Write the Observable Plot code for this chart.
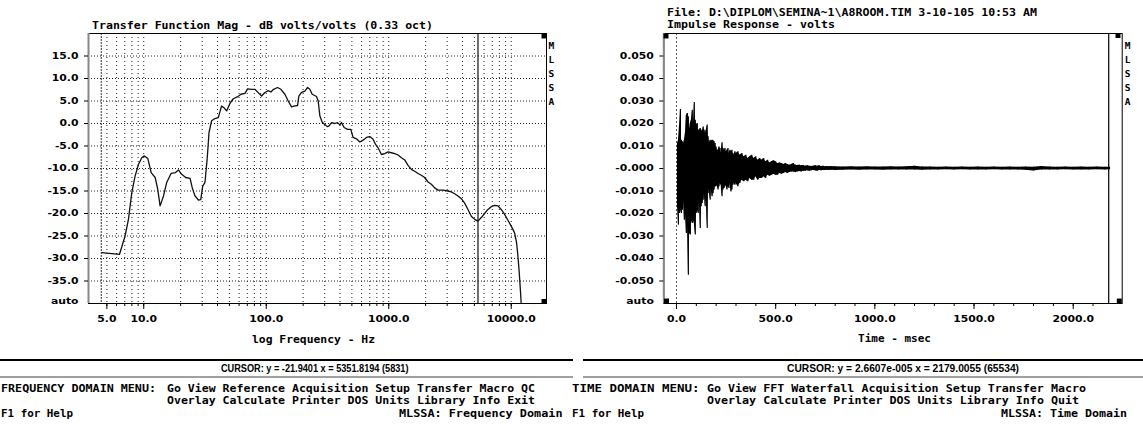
<!DOCTYPE html>
<html><head><meta charset="utf-8">
<script src="https://cdn.jsdelivr.net/npm/d3@7"></script>
<script src="https://cdn.jsdelivr.net/npm/@observablehq/plot@0.6"></script>
<style>
html,body{margin:0;padding:0;background:#fff;}
body{width:1143px;height:425px;overflow:hidden;position:relative;}
.pane{position:absolute;top:0;}
g[aria-label="x-axis tick label"], g[aria-label="y-axis tick label"]{font-family:"DejaVu Sans";font-weight:bold;font-size:8px;}
.hl{position:absolute;}
</style>
</head><body>
<div id="left" class="pane" style="left:0;width:571px"></div>
<div id="right" class="pane" style="left:571px;width:572px"></div>
<script>
// ---------- Frequency-domain panel data ----------
const freqHz = [
  4.55, 6.33, 7.04, 7.5, 7.98, 8.5, 9.05, 9.63, 10.1, 10.8,
  11.5, 12.4, 13.0, 13.6, 14.5, 15.4, 16.7, 18.2, 19.2, 20.4,
  22.0, 23.9, 24.9, 26.2, 27.9, 29.2, 30.3, 31.6, 33.0, 34.1,
  35.8, 38.1, 40.6, 43.2, 45.2, 47.5, 50.6, 53.8, 58.0, 62.2,
  67.0, 70.4, 75.9, 80.8, 87.1, 91.6, 97.5, 103.8, 109.1, 114.8,
  123.7, 131.7, 142.0, 151.1, 160.9, 171.3, 180.1, 184.6, 194.1, 206.7,
  217.3, 227.0, 237.1, 257.3, 265.5, 273.9, 286.2, 300.9, 314.3, 324.3,
  340.9, 362.9, 381.5, 398.6, 411.3, 432.4, 460.3, 490.0, 512.0, 545.1,
  580.2, 617.7, 657.6, 700.1, 745.3, 778.6, 818.6, 871.4, 927.8, 987.6,
  1051, 1119, 1191, 1269, 1350, 1437, 1530, 1629, 1734, 1846,
  1966, 2093, 2227, 2371, 2525, 2774, 3046, 3243, 3451, 3675,
  3912, 4165, 4434, 4720, 5025, 5350, 5693, 6061, 6452, 6871,
  7313, 7786, 8288, 8824, 9394, 10000, 10646, 11054, 11334, 11620,
  11915, 12065
];
const magDb = [
  -28.7, -29.1, -25.0, -21.3, -15.4, -11.7, -9.1, -7.6, -7.2, -7.8,
  -10.9, -12.0, -14.6, -18.3, -16.1, -13.1, -11.1, -10.9, -10.3, -11.3,
  -12.0, -12.2, -14.3, -16.1, -17.0, -16.9, -13.9, -13.1, -7.6, -2.0,
  0.6, 1.1, 1.3, 3.9, 3.5, 2.8, 4.5, 5.5, 5.9, 6.5,
  6.7, 7.7, 7.6, 7.6, 6.7, 6.1, 6.9, 7.3, 7.0, 7.6,
  8.0, 7.6, 6.5, 5.0, 3.7, 3.9, 4.0, 6.1, 6.9, 7.2,
  8.0, 7.6, 6.5, 6.0, 5.0, 1.7, 0.3, -0.2, -0.7, -0.6,
  0.2, 0.0, 0.2, -0.3, 0.2, -0.9, -1.3, -1.3, -3.1, -3.4,
  -4.1, -3.7, -3.1, -2.9, -3.5, -4.6, -5.4, -6.9, -6.7, -6.3,
  -6.5, -6.7, -7.0, -7.6, -8.1, -9.3, -10.2, -10.6, -11.1, -11.5,
  -12.0, -13.0, -13.5, -14.3, -14.8, -14.8, -15.0, -15.2, -15.6, -16.1,
  -16.7, -17.7, -19.1, -20.6, -21.3, -21.7, -20.9, -20.0, -19.1, -18.5,
  -18.2, -18.3, -19.1, -20.2, -21.5, -22.8, -24.3, -26.5, -29.4, -33.1,
  -37.6, -40.2
];
const freqGrid = [5,6,7,8,9,10,20,30,40,50,60,70,80,90,100,200,300,400,500,600,700,800,900,
  1000,2000,3000,4000,5000,6000,7000,8000,9000,10000];
const freqMajor = [5, 10, 100, 1000, 10000];
const freqLabels = ["5.0", "10.0", "100.0", "1000.0", "10000.0"];
const dbTicks = [-35, -30, -25, -20, -15, -10, -5, 0, 5, 10, 15];
const dbLabels = ["-35.0","-30.0","-25.0","-20.0","-15.0","-10.0","-5.0","0.0","5.0","10.0","15.0"];
const freqCursor = 5351.8194;
const freqMarker = 4.5;

// ---------- Time-domain panel data (peak envelope of the impulse response) ----------
const timeEarly = [5,10,15,20,25,30,35,40,45,50,55,60,65,70,75,80,85,90,95,100,
  105,110,115,120,125,130,135,140,145,150,155,160,165,170,175,180,185,190,195,200,
  205,210,215,220,225,230,235,240,245,250,255,260,265,270,275,280,285,290,295,300];
const hiEarly = [0.0111,0.0126,0.0185,0.0262,0.0126,0.0119,0.0111,0.0126,0.0156,0.0237,
  0.0244,0.0230,0.0170,0.0200,0.0215,0.0259,0.0185,0.0293,0.0215,0.0193,
  0.0200,0.0170,0.0170,0.0178,0.0170,0.0163,0.0185,0.0170,0.0156,0.0170,
  0.0193,0.0141,0.0111,0.0126,0.0119,0.0126,0.0123,0.0119,0.0111,0.0096,
  0.0081,0.0081,0.0096,0.0089,0.0067,0.0114,0.0089,0.0081,0.0089,0.0074,
  0.0081,0.0089,0.0067,0.0081,0.0074,0.0081,0.0067,0.0059,0.0074,0.0067];
const loEarly = [-0.0170,-0.0252,-0.0200,-0.0185,-0.0200,-0.0185,-0.0141,-0.0230,-0.0200,-0.0289,
  -0.0230,-0.0474,-0.0289,-0.0296,-0.0230,-0.0244,-0.0230,-0.0244,-0.0296,-0.0200,
  -0.0185,-0.0200,-0.0141,-0.0267,-0.0170,-0.0156,-0.0141,-0.0111,-0.0170,-0.0126,
  -0.0267,-0.0111,-0.0096,-0.0141,-0.0096,-0.0126,-0.0111,-0.0096,-0.0081,-0.0081,
  -0.0074,-0.0096,-0.0081,-0.0067,-0.0074,-0.0126,-0.0096,-0.0089,-0.0081,-0.0074,
  -0.0096,-0.0081,-0.0089,-0.0067,-0.0104,-0.0096,-0.0074,-0.0067,-0.0074,-0.0067];
const timeMid = [310,320,330,340,350,360,370,380,390,400,410,420,430,440,450,460,470,480,490,500,
  510,520,530,540,550,560,570,580,590,600,610,620,630,640,650,660,670,680,690,700,
  710,720,730,740,750,760,770,780,790,800];
const hiMid = [0.0074,0.0059,0.0067,0.0052,0.0059,0.0044,0.0052,0.0059,0.0044,0.0052,
  0.0037,0.0044,0.0037,0.0044,0.0030,0.0037,0.0025,0.0030,0.0034,0.0030,
  0.0022,0.0025,0.0022,0.0018,0.0022,0.0018,0.0015,0.0018,0.0022,0.0015,
  0.0013,0.0015,0.0012,0.0013,0.0010,0.0012,0.0010,0.0009,0.0010,0.0012,
  0.0010,0.0012,0.0009,0.0010,0.0008,0.0009,0.0008,0.0009,0.0008,0.0008];
const loMid = [-0.0081,-0.0067,-0.0052,-0.0059,-0.0052,-0.0059,-0.0044,-0.0052,-0.0052,-0.0037,
  -0.0052,-0.0044,-0.0044,-0.0037,-0.0044,-0.0030,-0.0034,-0.0030,-0.0025,-0.0030,
  -0.0030,-0.0022,-0.0025,-0.0022,-0.0018,-0.0022,-0.0018,-0.0015,-0.0015,-0.0018,
  -0.0015,-0.0013,-0.0015,-0.0012,-0.0012,-0.0010,-0.0012,-0.0010,-0.0009,-0.0010,
  -0.0012,-0.0009,-0.0010,-0.0009,-0.0009,-0.0008,-0.0009,-0.0008,-0.0008,-0.0009];
const timeTail = [840,880,920,960,1000,1040,1080,1120,1160,1200,1240,1280,1320,1360,1400,1440,1480,1520,
  1560,1600,1640,1680,1720,1760,1800,1840,1880,1920,1960,2000,2040,2080,2120,2160,2183];
const hiTail = [0.0007,0.0008,0.0007,0.0008,0.0007,0.0007,0.0008,0.0007,0.0008,0.0010,0.0007,0.0007,
  0.0006,0.0007,0.0006,0.0007,0.0006,0.0007,0.0006,0.0007,0.0006,0.0007,0.0006,0.0007,0.0006,
  0.0009,0.0007,0.0006,0.0007,0.0006,0.0007,0.0006,0.0007,0.0006,0.0006];
const loTail = [-0.0008,-0.0007,-0.0008,-0.0007,-0.0007,-0.0008,-0.0007,-0.0007,-0.0007,-0.0007,-0.0008,-0.0007,
  -0.0007,-0.0006,-0.0007,-0.0006,-0.0007,-0.0007,-0.0007,-0.0006,-0.0007,-0.0007,-0.0007,-0.0008,-0.0011,
  -0.0007,-0.0007,-0.0007,-0.0006,-0.0007,-0.0007,-0.0007,-0.0006,-0.0007,-0.0006];
const timeMinor = [0,100,200,300,400,500,600,700,800,900,1000,1100,1200,1300,1400,1500,1600,1700,1800,1900,2000,2100];
const timeMajor = [0, 500, 1000, 1500, 2000];
const timeLabels = ["0.0", "500.0", "1000.0", "1500.0", "2000.0"];
const voltTicks = [-0.05,-0.04,-0.03,-0.02,-0.01,0,0.01,0.02,0.03,0.04,0.05];
const voltLabels = ["-0.050","-0.040","-0.030","-0.020","-0.010","-0.000","0.010","0.020","0.030","0.040","0.050"];
const timeCursor = 2179.0055;
const timeMarker = 0;

// ---------- build ----------
const freqData = freqHz.map((f, i) => ({f, db: magDb[i]}));
const impulse = [
  ...timeEarly.map((t, i) => ({t, hi: hiEarly[i], lo: loEarly[i]})),
  ...timeMid.map((t, i) => ({t, hi: hiMid[i], lo: loMid[i]})),
  ...timeTail.map((t, i) => ({t, hi: hiTail[i], lo: loTail[i]}))
];
const dLab = new Map(dbTicks.map((v, i) => [v, dbLabels[i]]));
const vLab = new Map(voltTicks.map((v, i) => [v, voltLabels[i]]));
const tickLabelSet = new Set([...freqLabels, ...timeLabels, ...dbLabels, ...voltLabels, "auto"]);

const mono = {fontFamily: "DejaVu Sans Mono", fontWeight: "bold", fontSize: 9.5};
const tickFont = {fontFamily: "DejaVu Sans", fontWeight: "bold", fontSize: 8};
const sq = (frameAnchor, dx, dy) => Plot.dot([0], {frameAnchor, dx, dy, symbol: "square", r: 2.8, fill: "#000", stroke: "none"});
const mlssa = (dx) => Plot.text(["M\nL\nS\nS\nA"], {text: d => d, frameAnchor: "top-right", textAnchor: "start", lineAnchor: "top", dx, dy: 6, lineHeight: 1.46, ...mono, fill: "#000"});
const xLabels = (vals, labels) => Plot.text(vals, {x: d => d, text: (d, i) => labels[i], frameAnchor: "bottom", lineAnchor: "middle", dy: 15.5, fill: "#000", ...tickFont});

const freqDomain = [3.54, 19400];
const dbDomain = [-40, 20];
const leftPlot = Plot.plot({
  width: 571, height: 350,
  marginLeft: 88, marginRight: 25, marginTop: 33, marginBottom: 47,
  x: {type: "log", domain: freqDomain, label: null},
  y: {domain: dbDomain, label: null},
  style: {background: "transparent", color: "#000"},
  marks: [
    Plot.ruleX(freqGrid, {stroke: "#222", strokeDasharray: "1,3"}),
    Plot.ruleY(dbTicks, {stroke: "#222", strokeDasharray: "1,2"}),
    Plot.ruleX([freqMarker], {stroke: "#333", strokeDasharray: "2,1"}),
    Plot.ruleX([freqCursor], {stroke: "#111", strokeWidth: 1.2}),
    Plot.line(freqData, {x: "f", y: "db", stroke: "#111", strokeWidth: 1.3, clip: true}),
    Plot.frame({stroke: "#000"}),
    Plot.ruleX([freqDomain[0]], {stroke: "#888", strokeWidth: 2}),
    Plot.axisX({ticks: freqGrid, tickSize: 3, tickFormat: () => ""}),
    Plot.axisX({ticks: freqMajor, tickSize: 6, tickFormat: () => ""}),
    xLabels(freqMajor, freqLabels),
    Plot.axisY({ticks: dbTicks, tickSize: 4, tickPadding: 6, tickFormat: d => dLab.get(d)}),
    Plot.axisY({ticks: [dbDomain[0]], tickSize: 0, tickPadding: 10, dy: -2, tickFormat: () => "auto"}),
    sq("top-right", -2.5, 2.5), sq("bottom-right", -2.5, -2),
    mlssa(2)
  ]
});

const timeDomain = [-64, 2247];
const voltDomain = [-0.06, 0.06];
const rightPlot = Plot.plot({
  width: 572, height: 350,
  marginLeft: 92.3, marginRight: 21.3, marginTop: 33, marginBottom: 47,
  x: {domain: timeDomain, label: null},
  y: {domain: voltDomain, label: null},
  style: {background: "transparent", color: "#000"},
  marks: [
    Plot.ruleX([timeMarker], {stroke: "#555", strokeDasharray: "2,2"}),
    Plot.areaY(impulse, {x: "t", y1: "lo", y2: "hi", fill: "#000"}),
    Plot.ruleX(impulse, {x: "t", y1: "lo", y2: "hi", stroke: "#000", strokeWidth: 1.1}),
    Plot.ruleX([timeCursor], {stroke: "#000", strokeWidth: 1.2}),
    Plot.frame({stroke: "#000"}),
    Plot.ruleX([timeDomain[0]], {stroke: "#888", strokeWidth: 2}),
    Plot.axisX({ticks: timeMinor, tickSize: 3, tickFormat: () => ""}),
    Plot.axisX({ticks: timeMajor, tickSize: 6, tickFormat: () => ""}),
    xLabels(timeMajor, timeLabels),
    Plot.axisY({ticks: voltTicks, tickSize: 4, tickPadding: 6, tickFormat: d => vLab.get(d)}),
    Plot.axisY({ticks: [voltDomain[0]], tickSize: 0, tickPadding: 10, dy: -2, tickFormat: () => "auto"}),
    sq("top-left", 2.2, 2.5), sq("bottom-left", 2.7, -2.5), sq("bottom-right", -2.9, -2.5), sq("top-right", -4.2, 2),
    mlssa(2.6)
  ]
});

document.getElementById("left").appendChild(leftPlot);
document.getElementById("right").appendChild(rightPlot);

// stretch the tick labels horizontally (wide low-resolution screen font)
for (const svg of [leftPlot, rightPlot]) {
  for (const t of svg.querySelectorAll("text")) {
    if (!tickLabelSet.has(t.textContent)) continue;
    const w = t.getComputedTextLength();
    t.setAttribute("textLength", (w * 1.35).toFixed(2));
    t.setAttribute("lengthAdjust", "spacingAndGlyphs");
  }
}

// ---------- screen texts ----------
function put(s, x, yc, w, o = {}) {
  const size = o.size || 11;
  const d = document.createElement("div");
  d.textContent = s;
  d.style.cssText = `position:absolute;left:${x}px;top:0;white-space:pre;line-height:1;` +
    `font-family:${o.font || '"DejaVu Sans Mono"'};font-weight:${o.weight || "bold"};font-size:${size}px;` +
    `color:#000;transform-origin:0 0;`;
  document.body.appendChild(d);
  const r = d.getBoundingClientRect();
  d.style.top = (yc - (o.cap || 0.48) * size) + "px";
  if (w) d.style.transform = `scaleX(${w / r.width})`;
}
function hline(x, y, w, h, c) {
  const d = document.createElement("div");
  d.className = "hl";
  d.style.cssText += `left:${x}px;top:${y}px;width:${w}px;height:${h}px;background:${c};`;
  document.body.appendChild(d);
}
const sans = {font: '"Liberation Sans", Arial, sans-serif', weight: "bold", size: 11.5, cap: 0.49};

put("Transfer Function Mag - dB volts/volts (0.33 oct)", 92, 25.3, 341, {size: 10.5});
put("File: D:\\DIPLOM\\SEMINA~1\\A8ROOM.TIM 3-10-105 10:53 AM", 666.7, 11.7, 370, {size: 10.5});
put("Impulse Response - volts", 666.7, 24, 168, {size: 10.5});
put("log Frequency - Hz", 251.8, 338.6, 123, {size: 10.5});
put("Time - msec", 858.3, 338, 73, {size: 10.5});

hline(0, 359, 573, 1.5, "#000");
hline(0, 376, 573, 2, "#a0a0a0");
hline(583, 359, 560, 1.5, "#000");
hline(583, 376, 560, 2, "#a0a0a0");
put("CURSOR: y = -21.9401 x = 5351.8194 (5831)", 220.6, 368.5, 187.5, sans);
put("CURSOR: y = 2.6607e-005 x = 2179.0055 (65534)", 787, 368.5, 232, sans);

put("FREQUENCY DOMAIN MENU:", 1, 388.5, 155);
put("Go View Reference Acquisition Setup Transfer Macro QC", 167, 388.5, 368);
put("Overlay Calculate Printer DOS Units Library Info Exit", 167, 400.5, 368);
put("F1 for Help", 1, 413, 72);
put("MLSSA: Frequency Domain", 399, 413, 163.5);

put("TIME DOMAIN MENU:", 572, 388.5, 127.6);
put("Go View FFT Waterfall Acquisition Setup Transfer Macro", 707, 388.5, 379);
put("Overlay Calculate Printer DOS Units Library Info Quit", 707, 400.5, 372);
put("F1 for Help", 572, 413, 72);
put("MLSSA: Time Domain", 1000.7, 413, 126);
</script>
</body></html>
